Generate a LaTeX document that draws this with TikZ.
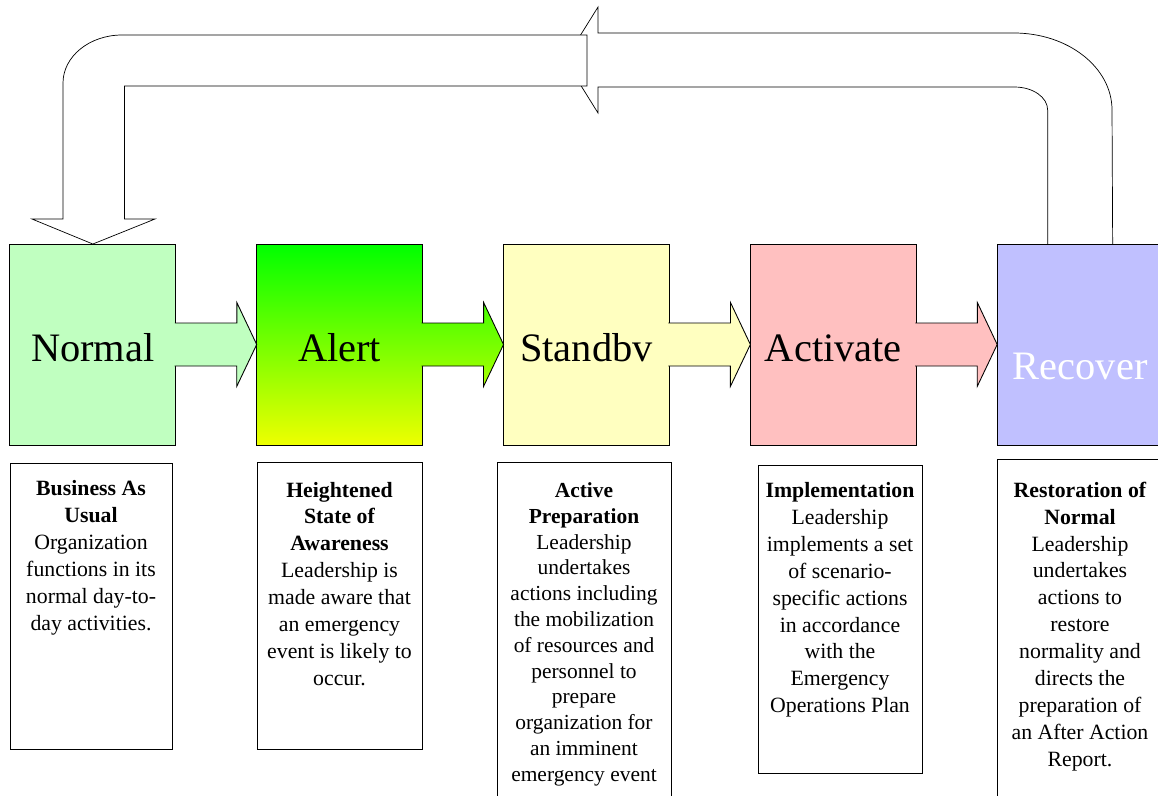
\documentclass[tikz,border=0pt]{standalone}
\usepackage{fontspec}
\setmainfont{Liberation Serif}
\usepackage{tikz}
\usetikzlibrary{matrix,backgrounds,positioning,calc}
\definecolor{normalgreen}{RGB}{192,255,192}
\definecolor{alerttop}{RGB}{0,255,0}
\definecolor{alertbottom}{RGB}{238,255,0}
\definecolor{standbyyellow}{RGB}{255,255,192}
\definecolor{activatepink}{RGB}{255,192,192}
\definecolor{recoverblue}{RGB}{192,192,255}

\begin{document}
\begin{tikzpicture}[x=0.02cm, y=-0.02cm, line width=0.5pt,
phases/.style={matrix of nodes,nodes={draw, minimum width=3.32cm, minimum height=4.02cm,
    anchor=center, inner sep=0pt, outer sep=0pt, text height=23.8pt, text depth=4pt,
    font=\fontsize{23}{27}\selectfont}, column sep=1.6cm},
flowarrow/.style={draw, line join=miter},
bigarrow/.style={draw, fill=white, line join=miter},
descbox/.style={draw, inner sep=0pt, outer sep=0pt},
desc/.style={align=center, inner sep=0pt, font=\fontsize{12.4}{15.3}\selectfont}]
\useasboundingbox (0,0) rectangle (1158,795);
\clip (0,0) rectangle (1158,795);
\matrix[phases] (phase) at (586.5,344.5) {
|[fill=normalgreen]| Normal & |[top color=alerttop, bottom color=alertbottom]| Alert &
|[fill=standbyyellow]| Standbv & |[fill=activatepink]| Activate &
|[fill=recoverblue, text=white, text height=44pt, text depth=3.8pt]| Recover \\};
% arrows between the phases
\foreach \from/\to/\col in {1/2/normalgreen, 3/4/standbyyellow, 4/5/activatepink}
  \draw[flowarrow, fill=\col] (phase-1-\from.east) ++(-1,-21.5) -- ++(62,0) -- ++(0,-20.5)
    -- (phase-1-\to.west) -- ++(-20,42) -- ++(0,-20.5) -- ++(-62,0);
\draw[flowarrow, top color=alertbottom!29!alerttop, bottom color=alertbottom!71!alerttop]
  (phase-1-2.east) ++(-1,-21.5) -- ++(62,0) -- ++(0,-20.5)
  -- (phase-1-3.west) -- ++(-20,42) -- ++(0,-20.5) -- ++(-62,0);
% loop back from Recover to Normal
\begin{scope}[on background layer]
\draw[bigarrow] ($(phase-1-5.north)+(-32.5,0)$) -- ++(0,-134)
  arc[start angle=0, end angle=-90, x radius=33, y radius=23]
  -- (598,87) -- (598,113) -- (565,60) -- (598,7) -- (598,33) -- (1014,33)
  arc[start angle=-90, end angle=0, x radius=98, y radius=77]
  -- ($(phase-1-5.north)+(32.5,0)$);
\draw[bigarrow] (587,86) -- (587,35) -- (122,35)
  arc[start angle=-90, end angle=-180, x radius=59, y radius=48]
  -- (63,219) -- (32,219) -- (phase-1-1.north) -- (155,219) -- (124.5,219) -- (124.5,86) -- cycle;
\end{scope}
% descriptions
\node[descbox, minimum width=3.24cm, minimum height=5.72cm] (busbox) at (91,606) {};
\node[desc, below=0.34cm of busbox.north] (bustext) {\textbf{Business As}\\\textbf{Usual}\\
  Organization\\functions in its\\normal day-to-\\day activities.};
\node[descbox, minimum width=3.30cm, minimum height=5.74cm] (awarebox) at (339.5,605.5) {};
\node[desc, below=0.39cm of awarebox.north] (awaretext) {\textbf{Heightened}\\\textbf{State of}\\
  \textbf{Awareness}\\Leadership is\\made aware that\\an emergency\\event is likely to\\occur.};
\node[descbox, minimum width=3.48cm, minimum height=7.36cm] (prepbox) at (584,646) {};
\node[desc, font=\fontsize{12.2}{14.7}\selectfont, below=0.40cm of prepbox.north] (preptext)
  {\textbf{Active}\\\textbf{Preparation}\\
  Leadership\\undertakes\\actions including\\the mobilization\\of resources and\\personnel to\\
  prepare\\organization for\\an imminent\\emergency event};
\node[descbox, minimum width=3.28cm, minimum height=6.16cm] (implbox) at (840,619) {};
\node[desc, below=0.34cm of implbox.north] (impltext) {\textbf{Implementation}\\Leadership\\
  implements a set\\of scenario-\\specific actions\\in accordance\\with the\\Emergency\\
  Operations Plan};
\node[descbox, minimum width=3.32cm, minimum height=7.42cm] (restbox) at (1080,644.5) {};
\node[desc, below=0.45cm of restbox.north] (resttext) {\textbf{Restoration of}\\\textbf{Normal}\\
  Leadership\\undertakes\\actions to\\restore\\normality and\\directs the\\preparation of\\
  an After Action\\Report.};
\end{tikzpicture}
\end{document}
